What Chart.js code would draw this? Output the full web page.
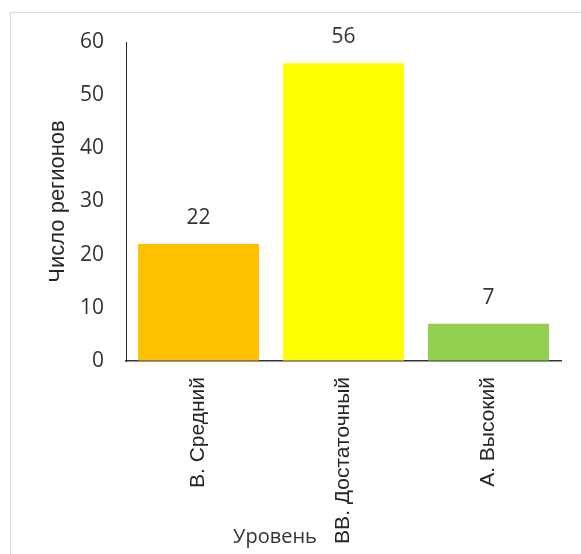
<!DOCTYPE html>
<html><head><meta charset="utf-8">
<script src="https://cdn.jsdelivr.net/npm/chart.js@4/dist/chart.umd.min.js"></script>
<style>
html,body{margin:0;padding:0;background:#fff;}
#wrap{position:relative;width:581px;height:554px;overflow:hidden;}
#frame{position:absolute;left:10px;top:12px;width:600px;height:600px;border:1px solid #d9d9d9;box-sizing:border-box;}
canvas{position:absolute;left:0;top:0;}
</style></head>
<body><div id="wrap"><div id="frame"></div><canvas id="c" width="581" height="554"></canvas></div>
<script>
const categories = ["В. Средний", "ВВ. Достаточный", "А. Высокий"];
const values = [22, 56, 7];
const barColors = ["#FFC000", "#FFFF00", "#92D050"];
const yTicks = [0, 10, 20, 30, 40, 50, 60];
const xTitle = "Уровень";
const yTitle = "Число регионов";

const labelPlugin = {
  id: 'labels',
  afterDatasetsDraw(chart) {
    const ctx = chart.ctx;
    const meta = chart.getDatasetMeta(0);
    ctx.save();
    ctx.font = '21px "Open Sans"';
    ctx.fillStyle = '#333333';
    ctx.textAlign = 'center';
    ctx.textBaseline = 'middle';
    meta.data.forEach((bar, i) => {
      ctx.fillText(String(values[i]), bar.x, bar.y - 26);
    });
    ctx.font = '20px "Open Sans"';
    ctx.textBaseline = 'alphabetic';
    ctx.fillText(xTitle, 275, 543);
    ctx.restore();
  }
};

new Chart(document.getElementById('c'), {
  type: 'bar',
  data: {
    labels: categories,
    datasets: [{ data: values, backgroundColor: barColors, borderWidth: 0,
      barPercentage: 0.834, categoryPercentage: 1 }]
  },
  options: {
    responsive: false,
    animation: false,
    layout: { padding: { left: 0, right: 20, top: 42, bottom: 0 } },
    plugins: { legend: { display: false }, tooltip: { enabled: false } },
    scales: {
      x: {
        grid: { display: true, drawOnChartArea: false, drawTicks: false, color: 'rgba(0,0,0,0)' },
        border: { display: true, color: '#333333', width: 1.5 },
        ticks: { minRotation: 90, maxRotation: 90, padding: 16, color: '#262626',
          font: { family: '"Liberation Sans", Arial', size: 21 } },
        afterFit(s) { s.height = 193; }
      },
      y: {
        min: 0, max: 60,
        afterBuildTicks(s) { s.ticks = yTicks.map(v => ({ value: v })); },
        grid: { display: true, drawOnChartArea: false, drawTicks: false, color: 'rgba(0,0,0,0)' },
        border: { display: true, color: '#262626', width: 1 },
        ticks: { padding: 22, color: '#333333', font: { family: '"Open Sans"', size: 21 } },
        title: { display: true, text: yTitle, color: '#262626',
          font: { family: '"Liberation Sans", Arial', size: 22 }, padding: { top: 45, bottom: 0 } },
        afterFit(s) { s.width = 126; }
      }
    }
  },
  plugins: [labelPlugin]
});
</script></body></html>
